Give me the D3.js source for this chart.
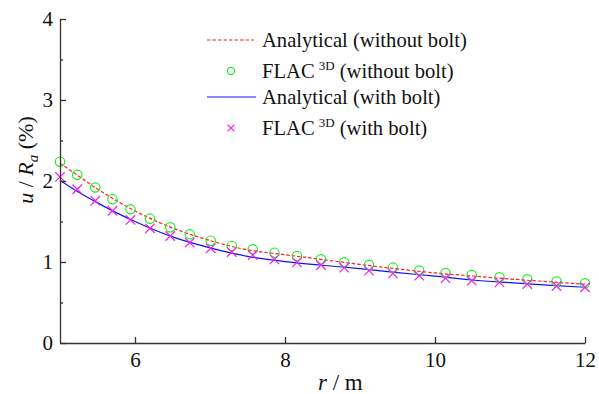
<!DOCTYPE html>
<html>
<head>
<meta charset="utf-8">
<script src="https://cdn.jsdelivr.net/npm/d3@7"></script>
<style>
  body { margin: 0; background: #fff; }
  svg text { font-family: "Times New Roman", "Liberation Serif", "DejaVu Serif", serif; fill: #111; }
</style>
</head>
<body>
<div id="chart"></div>
<script>
// FLAC3D grid points (r in m) and u/Ra (%) values
const rFlac = [5.0, 5.23, 5.47, 5.70, 5.94, 6.20, 6.47, 6.73, 7.01, 7.29, 7.57, 7.86,
               8.16, 8.48, 8.79, 9.12, 9.44, 9.79, 10.14, 10.49, 10.86, 11.23, 11.62, 12.0];
const flacNoBolt = [2.238, 2.076, 1.92, 1.776, 1.651, 1.535, 1.428, 1.342, 1.263, 1.198, 1.157, 1.115,
                    1.074, 1.033, 0.996, 0.963, 0.930, 0.895, 0.863, 0.838, 0.811, 0.786, 0.759, 0.737];
const flacBolt = [2.05, 1.898, 1.757, 1.633, 1.519, 1.416, 1.321, 1.238, 1.169, 1.123, 1.086, 1.033,
                  0.996, 0.963, 0.930, 0.893, 0.860, 0.831, 0.800, 0.769, 0.749, 0.728, 0.704, 0.688];

// analytical curves
const rLine = [5, 5.25, 5.5, 5.75, 6, 6.5, 7, 7.5, 8, 8.5, 9, 9.5, 10, 10.5, 11, 11.5, 12];
const anaNoBolt = [2.22, 2.06, 1.90, 1.76, 1.63, 1.42, 1.265, 1.15, 1.09, 1.03, 0.97, 0.915, 0.865, 0.827, 0.79, 0.757, 0.725];
const anaBolt = [2.01, 1.86, 1.73, 1.61, 1.50, 1.31, 1.175, 1.07, 1.005, 0.96, 0.918, 0.87, 0.825, 0.778, 0.745, 0.715, 0.688];

const xTicks = [6, 8, 10, 12];
const yTicks = [0, 1, 2, 3, 4];
const yMinor = [0.5, 1.5, 2.5, 3.5];

const width = 599, height = 394;
const margin = {left: 60, right: 14, top: 19, bottom: 51};
const serif = "'Times New Roman', 'Liberation Serif', 'DejaVu Serif', serif";
const green = "#1cf01c", magenta = "#f020f0";

const svg = d3.select("#chart").append("svg")
    .attr("width", width)
    .attr("height", height)
    .attr("font-family", serif);

const x = d3.scaleLinear().domain([5, 12]).range([margin.left, width - margin.right]);
const y = d3.scaleLinear().domain([0, 4]).range([height - margin.bottom, margin.top]);

// curves
const lineGen = (vals) => d3.line()
    .x((d, i) => x(rLine[i]))
    .y((d) => y(d))
    .curve(d3.curveMonotoneX)(vals);

svg.append("path")
   .attr("d", lineGen(anaNoBolt))
   .attr("fill", "none")
   .attr("stroke", "#ff2020")
   .attr("stroke-width", 1.2)
   .attr("stroke-dasharray", "3.5,2");

svg.append("path")
   .attr("d", lineGen(anaBolt))
   .attr("fill", "none")
   .attr("stroke", "#1010ff")
   .attr("stroke-width", 1.2);

// markers
svg.append("g").selectAll("circle")
   .data(flacNoBolt)
   .join("circle")
   .attr("cx", (d, i) => x(rFlac[i]))
   .attr("cy", (d) => y(d))
   .attr("r", 4.7)
   .attr("fill", "none")
   .attr("stroke", green)
   .attr("stroke-width", 1.2);

const cross = d3.symbol().type(d3.symbolX).size(60);
svg.append("g").selectAll("path")
   .data(flacBolt)
   .join("path")
   .attr("d", cross)
   .attr("transform", (d, i) => "translate(" + x(rFlac[i]) + "," + y(d) + ")")
   .attr("fill", "none")
   .attr("stroke", magenta)
   .attr("stroke-width", 1.2);

// axes, ticks pointing inward
svg.append("g")
   .attr("transform", "translate(0," + (height - margin.bottom) + ")")
   .call(d3.axisBottom(x).tickValues(xTicks).tickFormat(d3.format("d"))
         .tickSize(-6).tickPadding(9).tickSizeOuter(0));

svg.append("g")
   .attr("transform", "translate(" + margin.left + ",0)")
   .call(d3.axisLeft(y).tickValues(yTicks).tickFormat(d3.format("d"))
         .tickSize(-6).tickPadding(7).tickSizeOuter(0));

svg.append("g")
   .attr("transform", "translate(" + margin.left + ",0)")
   .call(d3.axisLeft(y).tickValues(yMinor).tickSize(-3).tickFormat("").tickSizeOuter(0))
   .select(".domain").remove();

svg.selectAll("g").attr("font-family", serif);
svg.selectAll(".domain, .tick line").attr("stroke", "#333").attr("stroke-width", 1.3);
svg.selectAll(".tick text")
   .attr("font-size", 21)
   .attr("fill", "#111");

// axis titles
const xt = svg.append("text")
   .attr("x", 318)
   .attr("y", 390)
   .attr("font-size", 23);
xt.append("tspan").attr("font-style", "italic").text("r");
xt.append("tspan").text(" / m");

const yt = svg.append("text")
   .attr("transform", "translate(33,160) rotate(-90)")
   .attr("text-anchor", "middle")
   .attr("font-size", 22);
yt.append("tspan").attr("font-style", "italic").text("u");
yt.append("tspan").text(" / ");
yt.append("tspan").attr("font-style", "italic").text("R");
yt.append("tspan").attr("font-style", "italic").attr("font-size", 15).attr("dy", 5).text("a");
yt.append("tspan").attr("dy", -5).text(" (%)");

// legend
const legY = [40, 71, 97, 128];
const legText = [["Analytical (without bolt)"], ["FLAC", "3D", " (without bolt)"],
                 ["Analytical (with bolt)"], ["FLAC", "3D", " (with bolt)"]];
const lg = svg.append("g");

lg.append("line").attr("x1", 207).attr("x2", 254).attr("y1", legY[0]).attr("y2", legY[0])
  .attr("stroke", "#ff2020").attr("stroke-width", 1.2).attr("stroke-dasharray", "3.5,2");
lg.append("circle").attr("cx", 231).attr("cy", legY[1]).attr("r", 3.6)
  .attr("fill", "none").attr("stroke", green).attr("stroke-width", 1.2);
lg.append("line").attr("x1", 207).attr("x2", 256).attr("y1", legY[2]).attr("y2", legY[2])
  .attr("stroke", "#1010ff").attr("stroke-width", 1.2);
lg.append("path").attr("d", d3.symbol().type(d3.symbolX).size(32))
  .attr("transform", "translate(231," + legY[3] + ")")
  .attr("fill", "none").attr("stroke", magenta).attr("stroke-width", 1.2);

legText.forEach(function(parts, i) {
    const t = lg.append("text")
       .attr("x", 262)
       .attr("y", legY[i] + 7)
       .attr("font-size", 20.6);
    t.append("tspan").text(parts[0]);
    if (parts.length > 1) {
        t.append("tspan").attr("dx", 4).attr("dy", -8).attr("font-size", 13).text(parts[1]);
        t.append("tspan").attr("dy", 8).text(parts[2]);
    }
});
</script>
</body>
</html>
